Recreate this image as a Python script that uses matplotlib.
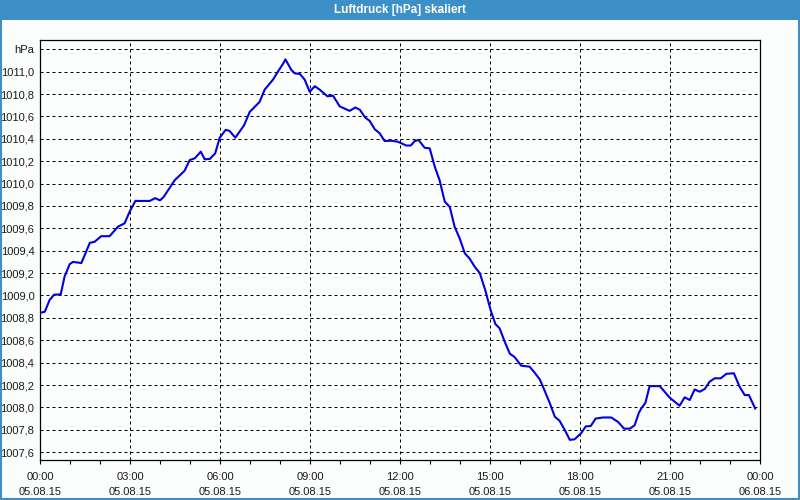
import matplotlib
matplotlib.use("Agg")
import matplotlib.pyplot as plt
from matplotlib.patches import Rectangle
from matplotlib.ticker import FixedLocator, MultipleLocator

title = "Luftdruck [hPa] skaliert"
unit_label = "hPa"

hours = [0.02, 0.16, 0.32, 0.47, 0.69, 0.82, 0.99, 1.10, 1.38, 1.66, 1.82, 2.04, 2.32,
         2.60, 2.82, 2.99, 3.18, 3.66, 3.84, 4.00, 4.12, 4.49, 4.82, 4.99, 5.16, 5.36,
         5.49, 5.66, 5.84, 5.99, 6.19, 6.32, 6.51, 6.80, 6.99, 7.32, 7.49, 7.77, 7.93,
         8.10, 8.18, 8.38, 8.49, 8.66, 8.82, 8.99, 9.16, 9.32, 9.58, 9.77, 9.99, 10.32,
         10.51, 10.66, 10.84, 10.99, 11.16, 11.32, 11.49, 11.71, 11.93, 12.10, 12.21,
         12.36, 12.49, 12.62, 12.82, 12.99, 13.16, 13.32, 13.49, 13.66, 13.82, 13.99,
         14.16, 14.32, 14.49, 14.66, 14.84, 15.02, 15.18, 15.32, 15.49, 15.66, 15.82,
         16.04, 16.32, 16.49, 16.66, 16.82, 16.99, 17.16, 17.32, 17.49, 17.66, 17.82,
         18.04, 18.19, 18.36, 18.52, 18.77, 19.04, 19.27, 19.47, 19.66, 19.82, 19.96,
         20.04, 20.18, 20.32, 20.66, 20.82, 20.99, 21.16, 21.32, 21.49, 21.66, 21.82,
         21.99, 22.16, 22.32, 22.49, 22.69, 22.88, 23.13, 23.32, 23.49, 23.63, 23.84]

pressure = [1008.846, 1008.855, 1008.96, 1009.007, 1009.01, 1009.17, 1009.28, 1009.30,
            1009.29, 1009.47, 1009.48, 1009.53, 1009.53, 1009.615, 1009.645, 1009.75,
            1009.845, 1009.845, 1009.87, 1009.85, 1009.88, 1010.03, 1010.115, 1010.21,
            1010.226, 1010.285, 1010.217, 1010.22, 1010.27, 1010.41, 1010.48, 1010.47,
            1010.41, 1010.52, 1010.64, 1010.73, 1010.84, 1010.93, 1011.0, 1011.07,
            1011.11, 1011.015, 1010.985, 1010.98, 1010.93, 1010.82, 1010.87, 1010.84,
            1010.78, 1010.785, 1010.69, 1010.65, 1010.68, 1010.66, 1010.59, 1010.56,
            1010.485, 1010.45, 1010.38, 1010.383, 1010.374, 1010.354, 1010.34, 1010.34,
            1010.38, 1010.39, 1010.32, 1010.315, 1010.15, 1010.03, 1009.84, 1009.79,
            1009.615, 1009.51, 1009.377, 1009.33, 1009.257, 1009.20, 1009.05, 1008.87,
            1008.745, 1008.707, 1008.587, 1008.48, 1008.45, 1008.373, 1008.364, 1008.31,
            1008.25, 1008.15, 1008.04, 1007.917, 1007.88, 1007.80, 1007.71, 1007.715,
            1007.77, 1007.83, 1007.834, 1007.90, 1007.91, 1007.91, 1007.87, 1007.81,
            1007.81, 1007.84, 1007.95, 1007.99, 1008.04, 1008.19, 1008.19, 1008.14,
            1008.087, 1008.05, 1008.015, 1008.09, 1008.066, 1008.16, 1008.14, 1008.165,
            1008.23, 1008.26, 1008.26, 1008.30, 1008.305, 1008.185, 1008.11, 1008.11,
            1007.99]

x_ticks = [0, 3, 6, 9, 12, 15, 18, 21, 24]
x_tick_labels = ["00:00\n05.08.15", "03:00\n05.08.15", "06:00\n05.08.15",
                 "09:00\n05.08.15", "12:00\n05.08.15", "15:00\n05.08.15",
                 "18:00\n05.08.15", "21:00\n05.08.15", "00:00\n06.08.15"]
y_ticks = [1007.6, 1007.8, 1008.0, 1008.2, 1008.4, 1008.6, 1008.8, 1009.0, 1009.2,
           1009.4, 1009.6, 1009.8, 1010.0, 1010.2, 1010.4, 1010.6, 1010.8, 1011.0, 1011.2]

plt.rcParams['font.family'] = ['Liberation Sans', 'DejaVu Sans']

BLUE_BAR = "#3d90c7"
TEXT = "#1a1a1a"
fig = plt.figure(figsize=(8, 5), dpi=100, facecolor="#fcfefd")

# title bar and frame
fig.patches.append(Rectangle((0, 0.96), 1, 0.04, transform=fig.transFigure,
                             facecolor=BLUE_BAR, edgecolor="none", zorder=0))
fig.patches.append(Rectangle((0.001, 0.002), 0.998, 0.996, transform=fig.transFigure,
                             facecolor="none", edgecolor=BLUE_BAR, linewidth=1.5, zorder=1))
fig.text(0.5, 0.98, title, color="white", fontsize=8.5, fontweight="bold",
         ha="center", va="center")

ax = fig.add_axes([0.05, 0.08, 0.90, 0.84])
ax.set_facecolor("#fcfefd")
ax.plot(hours, pressure, color="#0000e0", linewidth=1.5, zorder=3)

ax.set_xlim(0, 24)
ax.set_ylim(1007.530, 1011.283)

ax.xaxis.set_major_locator(FixedLocator(x_ticks))
ax.set_xticklabels(x_tick_labels, fontsize=8, linespacing=1.6, color=TEXT)
ax.xaxis.set_minor_locator(MultipleLocator(1))
ax.tick_params(axis="x", which="both", direction="out", length=3, width=0.8,
               color="black", pad=5.5)

ax.yaxis.set_major_locator(FixedLocator(y_ticks))
ylabels = [f"{v:.1f}".replace(".", ",") for v in y_ticks]
ylabels[-1] = unit_label
ax.set_yticklabels(ylabels, fontsize=8, color=TEXT)
ax.tick_params(axis="y", which="both", length=0, pad=4)

ax.grid(True, which="major", color="black", linestyle=(0, (3, 3)), linewidth=0.72)
for s in ax.spines.values():
    s.set_color("black")
    s.set_linewidth(0.9)

fig.savefig("out.png", dpi=100, facecolor=fig.get_facecolor())
